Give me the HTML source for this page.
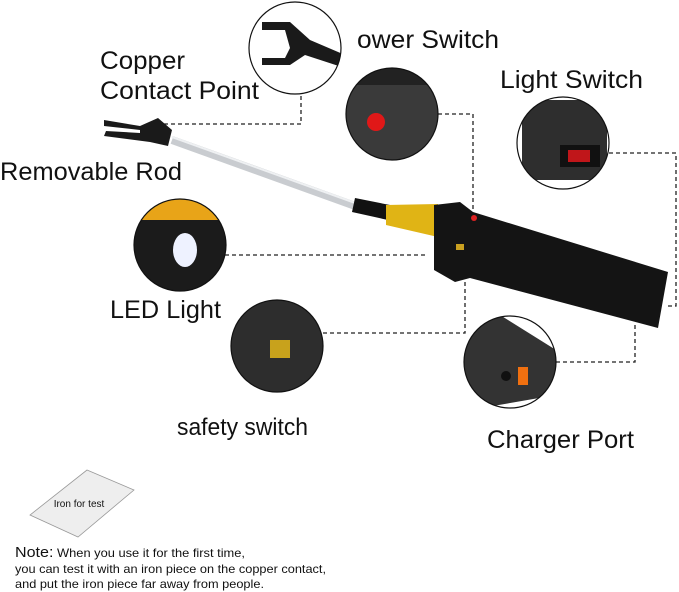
<!DOCTYPE html>
<html><head><meta charset="utf-8"><style>
html,body{margin:0;padding:0;background:#fff;}
svg{display:block;}
text{font-family:"Liberation Sans",sans-serif;fill:#111;}
</style></head><body>
<svg width="679" height="592" viewBox="0 0 679 592" xmlns="http://www.w3.org/2000/svg">
<defs>
<clipPath id="c1"><circle cx="295" cy="48" r="46"/></clipPath>
<clipPath id="c2"><circle cx="392" cy="114" r="46"/></clipPath>
<clipPath id="c3"><circle cx="563" cy="143" r="46"/></clipPath>
<clipPath id="c4"><circle cx="180" cy="245" r="46"/></clipPath>
<clipPath id="c5"><circle cx="277" cy="346" r="46"/></clipPath>
<clipPath id="c6"><circle cx="510" cy="362" r="46"/></clipPath>
</defs>
<g stroke="#222" stroke-width="1.3" stroke-dasharray="4,3" fill="none">
<polyline points="157,124 301,124 301,95"/>
<polyline points="438,114 473,114 473,212"/>
<polyline points="609,153 676,153 676,306 668,306"/>
<polyline points="225,255 428,255"/>
<polyline points="323,333 465,333 465,260"/>
<polyline points="556,362 635,362 635,322"/>
</g>
<line x1="172" y1="140" x2="358" y2="207" stroke="#c9ccd0" stroke-width="8"/>
<line x1="172" y1="137" x2="358" y2="204" stroke="#eef0f2" stroke-width="2"/>
<path d="M104,120 L140,126 L158,118 L172,130 L168,146 L150,142 L104,136 L106,131 L140,133 L140,130 L104,126Z" fill="#1a1a1a"/>
<polygon points="355,198 390,205 388,220 352,212" fill="#111"/>
<polygon points="386,205 438,204 438,237 386,225" fill="#e0b415"/>
<polygon points="434,205 460,202 473,212 668,272 658,328 470,278 455,282 434,270" fill="#141414"/>
<circle cx="474" cy="218" r="3" fill="#d22"/>
<rect x="456" y="244" width="8" height="6" fill="#c9a020"/>
<g clip-path="url(#c1)"><rect x="240" y="0" width="110" height="100" fill="#fff"/>
<path d="M262,22 L290,22 L310,40 L345,55 L345,68 L305,55 L290,65 L262,65 L262,58 L285,58 L290,48 L285,30 L262,30Z" fill="#1a1a1a"/></g>
<circle cx="295" cy="48" r="46" fill="none" stroke="#111" stroke-width="1.2"/>
<g clip-path="url(#c2)"><rect x="340" y="60" width="110" height="110" fill="#3a3a3a"/>
<rect x="340" y="60" width="110" height="25" fill="#222"/>
<circle cx="376" cy="122" r="9" fill="#e01818"/></g>
<circle cx="392" cy="114" r="46" fill="none" stroke="#111" stroke-width="1.2"/>
<g clip-path="url(#c3)"><rect x="510" y="90" width="110" height="110" fill="#fff"/>
<rect x="522" y="100" width="85" height="80" rx="8" fill="#2e2e2e"/>
<rect x="560" y="145" width="40" height="22" fill="#111"/>
<rect x="568" y="150" width="22" height="12" fill="#c0161a"/></g>
<circle cx="563" cy="143" r="46" fill="none" stroke="#111" stroke-width="1.2"/>
<g clip-path="url(#c4)"><rect x="130" y="195" width="100" height="100" fill="#1b1b1b"/>
<rect x="130" y="195" width="100" height="25" fill="#e8a418"/>
<ellipse cx="185" cy="250" rx="12" ry="17" fill="#eef2ff"/></g>
<circle cx="180" cy="245" r="46" fill="none" stroke="#111" stroke-width="1.2"/>
<g clip-path="url(#c5)"><rect x="228" y="298" width="100" height="100" fill="#2d2d2d"/>
<rect x="270" y="340" width="20" height="18" fill="#c8a21c"/></g>
<circle cx="277" cy="346" r="46" fill="none" stroke="#111" stroke-width="1.2"/>
<g clip-path="url(#c6)"><rect x="460" y="312" width="100" height="100" fill="#fff"/>
<polygon points="460,330 500,315 556,350 556,395 470,410" fill="#333"/>
<circle cx="506" cy="376" r="5" fill="#111"/>
<rect x="518" y="367" width="10" height="18" fill="#f07010"/></g>
<circle cx="510" cy="362" r="46" fill="none" stroke="#111" stroke-width="1.2"/>
<text x="357" y="48" font-size="25" textLength="142" lengthAdjust="spacingAndGlyphs">ower Switch</text>
<text x="100" y="69" font-size="25" textLength="85" lengthAdjust="spacingAndGlyphs">Copper</text>
<text x="100" y="99" font-size="25" textLength="159" lengthAdjust="spacingAndGlyphs">Contact Point</text>
<text x="500" y="88" font-size="25" textLength="143" lengthAdjust="spacingAndGlyphs">Light Switch</text>
<text x="0" y="180" font-size="25" textLength="182" lengthAdjust="spacingAndGlyphs">Removable Rod</text>
<text x="110" y="318" font-size="25" textLength="111" lengthAdjust="spacingAndGlyphs">LED Light</text>
<text x="177" y="435" font-size="24" textLength="131" lengthAdjust="spacingAndGlyphs">safety switch</text>
<text x="487" y="448" font-size="25" textLength="147" lengthAdjust="spacingAndGlyphs">Charger Port</text>
<polygon points="87,470 134,490 78,537 30,515" fill="#eeeeee" stroke="#999" stroke-width="0.8"/>
<text x="79" y="507" font-size="10" text-anchor="middle" fill="#333">Iron for test</text>
<text x="15" y="557" font-size="15" textLength="230" lengthAdjust="spacingAndGlyphs">Note:<tspan font-size="12"> When you use it for the first time,</tspan></text>
<text x="15" y="573" font-size="12" textLength="311" lengthAdjust="spacingAndGlyphs">you can test it with an iron piece on the copper contact,</text>
<text x="15" y="588" font-size="12" textLength="249" lengthAdjust="spacingAndGlyphs">and put the iron piece far away from people.</text>
</svg>
</body></html>
